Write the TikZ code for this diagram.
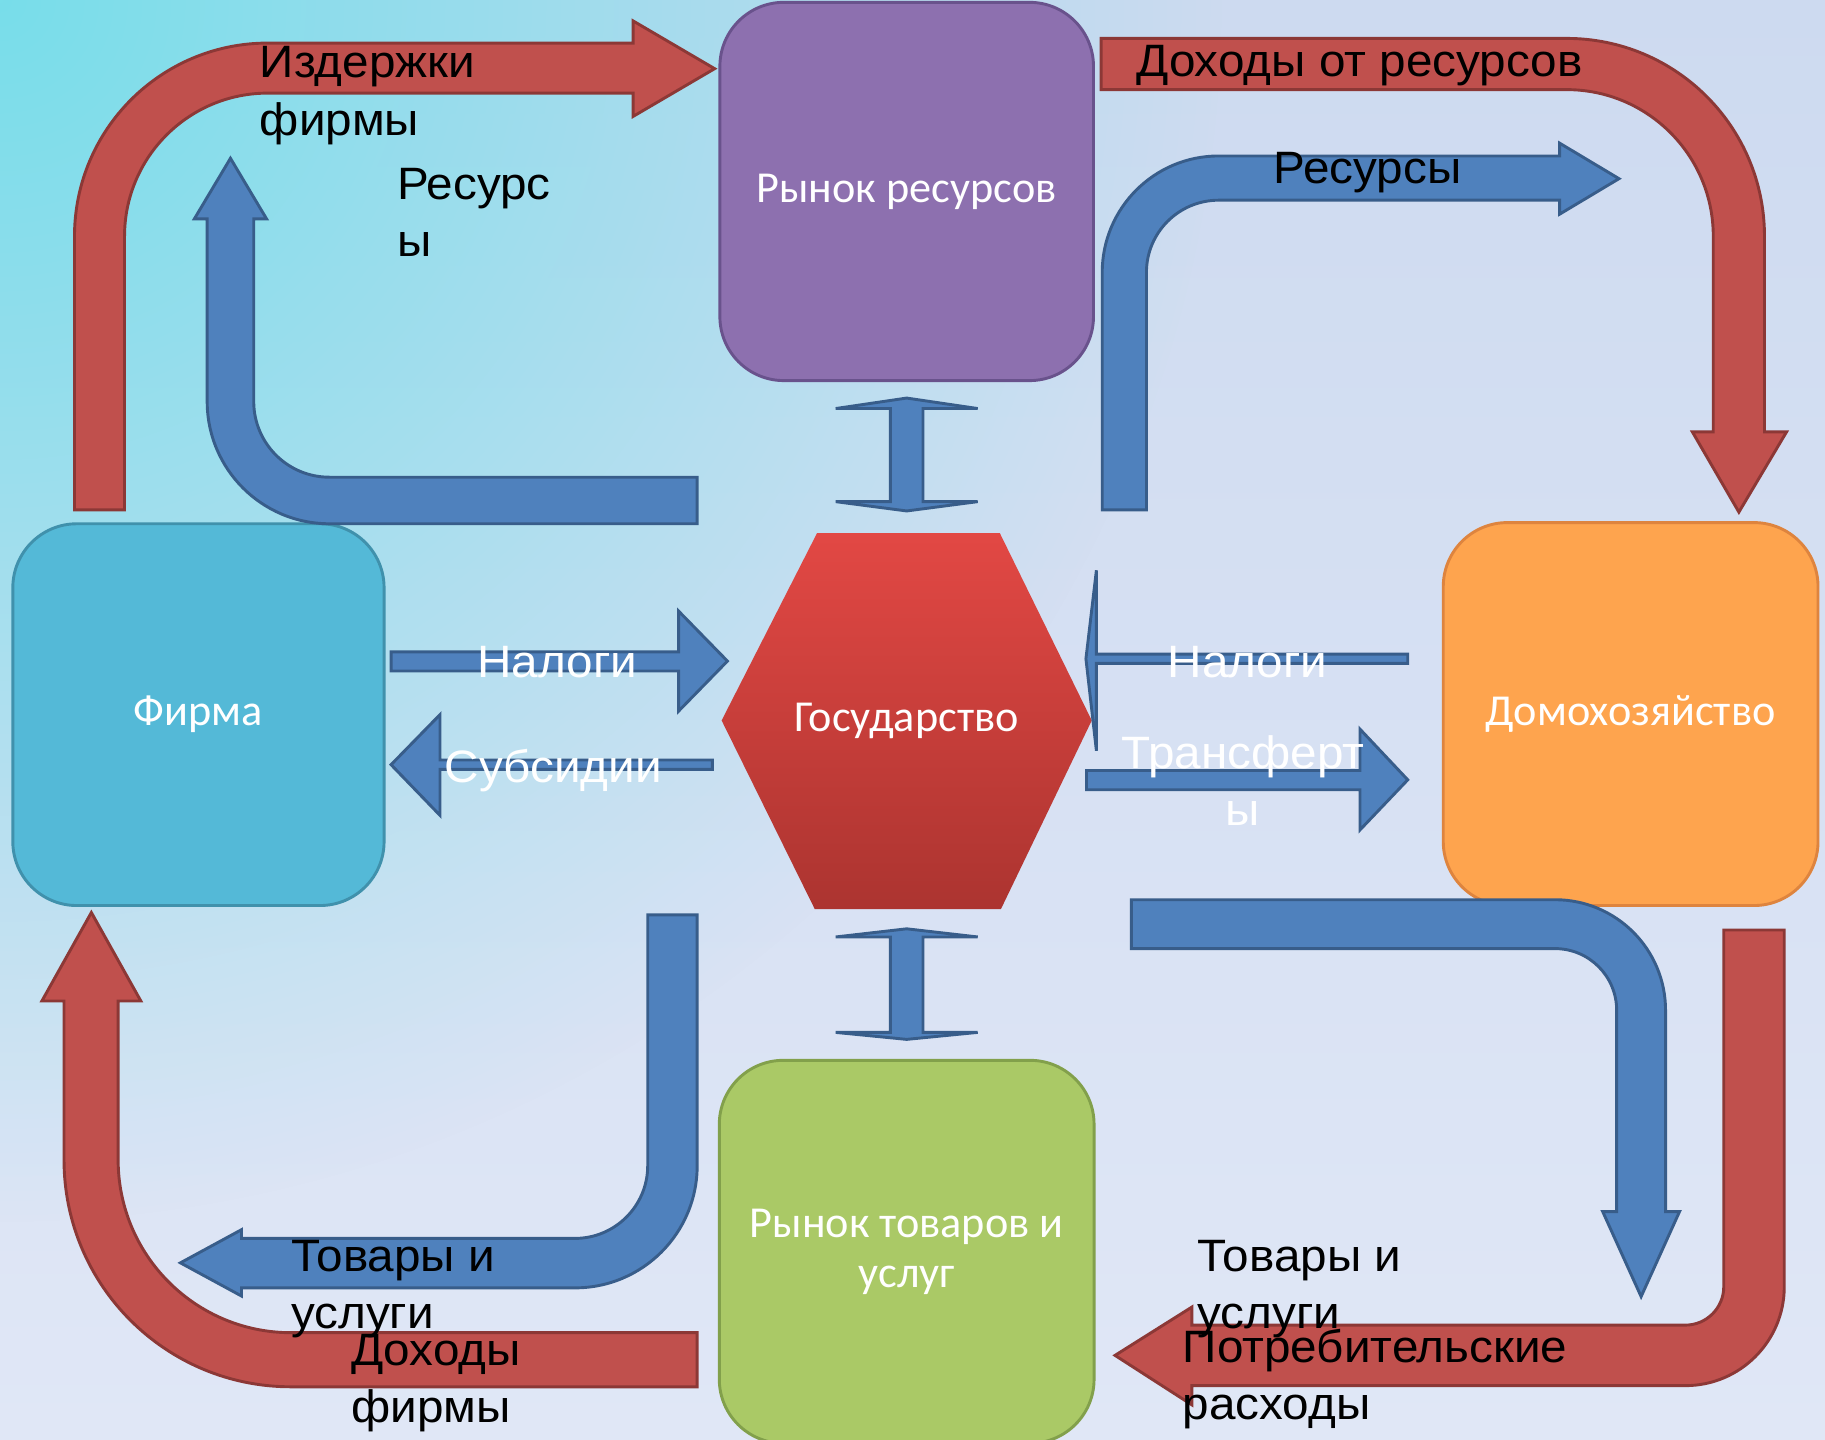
\documentclass[tikz,border=0pt]{standalone}
\usepackage{fontspec}
\setmainfont{Liberation Sans}[FakeStretch=1.05]
\newfontfamily\boxfont{Carlito}
\usetikzlibrary{fadings}
\definecolor{arrred}{RGB}{192,80,77}
\definecolor{arrredd}{RGB}{140,56,54}
\definecolor{arrblue}{RGB}{79,129,189}
\definecolor{arrblued}{RGB}{56,93,138}
\definecolor{purp}{RGB}{141,112,175}
\definecolor{purpd}{RGB}{105,82,140}
\definecolor{cyanbox}{RGB}{84,185,215}
\definecolor{cyanboxd}{RGB}{64,145,172}
\definecolor{orng}{RGB}{254,164,78}
\definecolor{orngd}{RGB}{222,132,62}
\definecolor{grn}{RGB}{170,201,102}
\definecolor{grnd}{RGB}{130,160,75}
\definecolor{hextop}{RGB}{226,72,68}
\definecolor{hexbot}{RGB}{172,52,48}
\definecolor{bgtop}{RGB}{205,218,240}
\definecolor{bgmid}{RGB}{198,212,237}
\definecolor{bgbot}{RGB}{224,231,246}
\definecolor{bgcyan}{RGB}{120,222,234}
\tikzfading[name=cyanglow, inner color=transparent!0, outer color=transparent!100]
\tikzset{
  redarr/.style={fill=arrred, draw=arrredd, line width=2.5pt, line join=miter},
  bluearr/.style={fill=arrblue, draw=arrblued, line width=2.5pt, line join=miter},
  box/.style={rounded corners=55pt, line width=2.5pt, text=white, font=\boxfont\fontsize{38}{43}\selectfont, align=center, inner sep=0pt},
  boxtext/.style={text=white, font=\boxfont\fontsize{38}{43}\selectfont, align=center, inner sep=0pt},
  lbl/.style={font=\fontsize{39}{49}\selectfont, inner sep=0pt, align=left, text=black},
  wlbl/.style={lbl, text=white}
}
\begin{document}
\begin{tikzpicture}[x=1pt,y=-1pt]
\useasboundingbox (0,0) rectangle (1568,1237);
\clip (0,0) rectangle (1568,1237);
% background
\shade[top color=bgtop, middle color=bgmid, bottom color=bgbot] (0,0) rectangle (1568,1237);
\fill[bgcyan, path fading=cyanglow] (0,0) circle (1050);
% boxes
\node[box, fill=purp, draw=purpd, minimum width=321pt, minimum height=325pt] (rr) at (779,164.5) {Рынок ресурсов};
\node[box, fill=cyanbox, draw=cyanboxd, minimum width=319pt, minimum height=328pt] (firm) at (170.5,614) {Фирма};
\node[box, fill=orng, draw=orngd, minimum width=322pt, minimum height=329pt] (home) at (1401,613.5) {Домохозяйство};
\node[box, fill=grn, draw=grnd, minimum width=322pt, minimum height=329pt] (rt) at (779,1075.5) {Рынок товаров и\\услуг};
% hexagon
\shade[top color=hextop, bottom color=hexbot] (702,458) -- (859,458) -- (938,619) -- (860,781) -- (700,781) -- (620,619) -- cycle;
\node[boxtext] (gov) at (779,619) {Государство};
% bent arrows
\draw[redarr] (64,438) -- (64,203) arc[start angle=180, end angle=270, radius=166] -- (544,37) -- (544,18) -- (614,59) -- (544,100) -- (544,80) -- (230,80) arc[start angle=270, end angle=180, radius=123] -- (107,438) -- cycle;
\draw[bluearr] (599,450) -- (283,450) arc[start angle=90, end angle=180, radius=105] -- (178,188) -- (167,188) -- (198,136) -- (229,188) -- (218,188) -- (218,345) arc[start angle=180, end angle=90, radius=65] -- (599,410) -- cycle;
\draw[redarr] (946,33) -- (1346,33) arc[start angle=270, end angle=360, radius=170] -- (1516,371) -- (1535,371) -- (1494,440) -- (1454,371) -- (1472,371) -- (1472,203) arc[start angle=0, end angle=-90, radius=126] -- (946,77) -- cycle;
\draw[bluearr] (947,438) -- (947,234) arc[start angle=180, end angle=270, radius=100] -- (1340,134) -- (1340,123) -- (1391,153.5) -- (1340,184) -- (1340,172) -- (1047,172) arc[start angle=270, end angle=180, radius=62] -- (985,438) -- cycle;
\draw[bluearr] (972,773) -- (1336,773) arc[start angle=270, end angle=360, radius=95] -- (1431,1041) -- (1443,1041) -- (1410,1114) -- (1377,1041) -- (1389,1041) -- (1389,868) arc[start angle=0, end angle=-90, radius=53] -- (972,815) -- cycle;
\draw[redarr] (1533,799) -- (1533,1105.5) arc[start angle=0, end angle=90, radius=85] -- (1024,1190.5) -- (1024,1207) -- (958,1164.5) -- (1024,1123) -- (1024,1138.5) -- (1448,1138.5) arc[start angle=90, end angle=0, radius=33] -- (1481,799) -- cycle;
\draw[bluearr] (599,786) -- (599,1001.5) arc[start angle=0, end angle=90, radius=105] -- (207.5,1106.5) -- (207.5,1113.5) -- (155,1085) -- (207.5,1056.5) -- (207.5,1064) -- (494,1064) arc[start angle=90, end angle=0, radius=62.5] -- (556.5,786) -- cycle;
\draw[redarr] (599,1191.5) -- (250,1191.5) arc[start angle=90, end angle=180, radius=195] -- (55,860) -- (36,860) -- (78.5,784) -- (121,860) -- (101.5,860) -- (101.5,996.5) arc[start angle=180, end angle=90, radius=148.5] -- (599,1145) -- cycle;
% straight arrows
\draw[bluearr] (336,560) -- (583,560) -- (583,525) -- (625,568) -- (583,611) -- (583,576.5) -- (336,576.5) -- cycle;
\draw[bluearr] (612,653) -- (378,653) -- (378,614) -- (336,657) -- (378,700.5) -- (378,661) -- (612,661) -- cycle;
\draw[bluearr] (1209.5,562) -- (942,562) -- (942,490) -- (933,566) -- (942,645) -- (942,570) -- (1209.5,570) -- cycle;
\draw[bluearr] (933.5,662) -- (1168.5,662) -- (1168.5,626.5) -- (1209.5,670) -- (1168.5,713) -- (1168.5,678.5) -- (933.5,678.5) -- cycle;
% double vertical arrows
\draw[bluearr] (779,342) -- (840,351) -- (793,351) -- (793,431) -- (840,431) -- (779,439) -- (718,431) -- (765,431) -- (765,351) -- (718,351) -- cycle;
\draw[bluearr] (779,798) -- (840,805) -- (793,805) -- (793,887) -- (840,887) -- (779,893) -- (718,887) -- (765,887) -- (765,805) -- (718,805) -- cycle;
% labels (base anchor = baseline of last line)
\node[lbl, anchor=base west] (l1) at (223,116) {Издержки\\фирмы};
\node[lbl, anchor=base west] (l2) at (341,220) {Ресурс\\ы};
\node[lbl, anchor=base west] (l3) at (976,66) {Доходы от ресурсов};
\node[lbl, anchor=base west] (l4) at (1094,158) {Ресурсы};
\node[wlbl, anchor=base west] (l5) at (410,582) {Налоги};
\node[wlbl, anchor=base west] (l6) at (382,672) {Субсидии};
\node[wlbl, anchor=base west] (l7) at (1003,582) {Налоги};
\node[wlbl, align=center, anchor=base] (l8) at (1068,709) {Трансферт\\ы};
\node[lbl, anchor=base west] (l9) at (1028.5,1141) {Товары и\\услуги};
\node[lbl, anchor=base west] (l10) at (1016,1220) {Потребительские\\расходы};
\node[lbl, anchor=base west] (l11) at (250,1141) {Товары и\\услуги};
\node[lbl, anchor=base west] (l12) at (301.5,1222) {Доходы\\фирмы};
\end{tikzpicture}
\end{document}
